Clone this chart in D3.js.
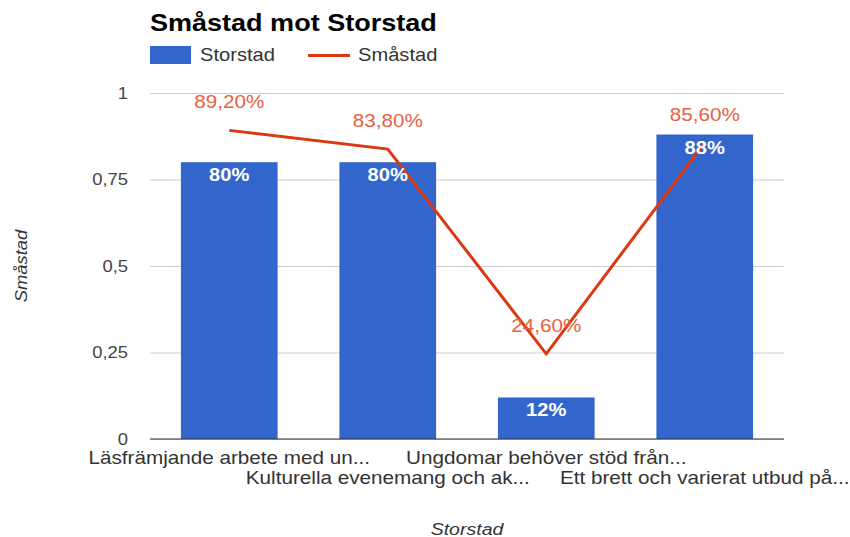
<!DOCTYPE html>
<html>
  <head>
    <meta charset="utf-8">
    <style>
      body { margin: 0; background: #fff; }
      text { font-family: "Liberation Sans", Arial, sans-serif; }
    </style>
  </head>
  <body>
    <script src="https://d3js.org/d3.v7.min.js"></script>
    <script>
      var categories = ['Läsfrämjande arbete med un...',
                        'Kulturella evenemang och ak...',
                        'Ungdomar behöver stöd från...',
                        'Ett brett och varierat utbud på...'];
      var storstad = [0.80, 0.80, 0.12, 0.88];
      var smastad = [0.892, 0.838, 0.246, 0.856];
      var yTicks = [0, 0.25, 0.5, 0.75, 1];

      var W = 850, H = 537;
      var pLeft = 150, pRight = 784, pTop = 93, pBottom = 439;
      var sx = 1.15; // the reference text is a little wide

      var svg = d3.select('body').append('svg')
                  .attr('width', W)
                  .attr('height', H);

      var x = d3.scaleBand().domain(categories)
                .range([pLeft, pRight]).paddingInner(0.39).paddingOuter(0.195);
      var y = d3.scaleLinear().domain([0, 1]).range([pBottom, pTop]);

      function comma(v) { return String(v).replace('.', ','); }
      function pct(v, dec) {
        return (v * 100).toFixed(dec).replace('.', ',') + '%';
      }
      function label(g, px, py, str, size, fill, anchor) {
        return g.append('text')
                .attr('transform', 'translate(' + px + ',' + py + ') scale(' + sx + ',1)')
                .attr('text-anchor', anchor || 'start')
                .attr('fill', fill)
                .style('font-size', size + 'px')
                .text(str);
      }

      // gridlines + y tick labels
      svg.append('g')
         .attr('transform', 'translate(' + pLeft + ',0)')
         .call(d3.axisLeft(y).tickValues(yTicks).tickSize(-(pRight - pLeft))
               .tickFormat(function(d) { return comma(d); }))
         .call(function(g) {
           g.select('.domain').remove();
           g.selectAll('.tick line').attr('stroke', '#cccccc');
           g.selectAll('.tick text')
            .attr('x', -22 / sx)
            .attr('transform', 'scale(' + sx + ',1)')
            .attr('fill', '#444')
            .style('font-family', '"Liberation Sans", Arial, sans-serif')
            .style('font-size', '16px');
         });

      // bars
      svg.selectAll('rect.bar').data(storstad).enter().append('rect')
         .attr('class', 'bar')
         .attr('x', function(d, i) { return x(categories[i]); })
         .attr('width', x.bandwidth())
         .attr('y', function(d) { return y(d); })
         .attr('height', function(d) { return pBottom - y(d); })
         .attr('fill', '#3366cc');

      // baseline
      svg.append('line')
         .attr('x1', pLeft).attr('x2', pRight)
         .attr('y1', y(0)).attr('y2', y(0))
         .attr('stroke', '#333').attr('stroke-width', 1);

      // line
      var cx = function(i) { return x(categories[i]) + x.bandwidth() / 2; };
      var line = d3.line()
                   .x(function(d, i) { return cx(i); })
                   .y(function(d) { return y(d); });
      svg.append('path').datum(smastad)
         .attr('d', line)
         .attr('fill', 'none')
         .attr('stroke', '#dc3912')
         .attr('stroke-width', 3);

      // bar labels
      storstad.forEach(function(d, i) {
        label(svg, cx(i), y(d) + 19, pct(d, 0), 17.5, '#fff', 'middle')
          .style('font-weight', 'bold');
      });

      // line labels
      smastad.forEach(function(d, i) {
        label(svg, cx(i), y(d) - 22, pct(d, 2), 18, '#e8603f', 'middle');
      });

      // category labels, alternating rows
      categories.forEach(function(d, i) {
        label(svg, cx(i), i % 2 ? 484 : 464, d, 18, '#333', 'middle');
      });

      // axis titles
      label(svg, (pLeft + pRight) / 2, 535, 'Storstad', 17, '#333', 'middle')
        .style('font-style', 'italic');
      svg.append('text')
         .attr('transform', 'translate(27,' + (pTop + pBottom) / 2 + ') rotate(-90) scale(1.15,1)')
         .attr('text-anchor', 'middle')
         .attr('fill', '#333')
         .style('font-size', '16px').style('font-style', 'italic')
         .text('Småstad');

      // title
      label(svg, pLeft, 31, 'Småstad mot Storstad', 23.5, '#000')
        .style('font-weight', 'bold');

      // legend
      var lg = svg.append('g');
      lg.append('rect').attr('x', 150).attr('y', 46)
        .attr('width', 41).attr('height', 18).attr('fill', '#3366cc');
      label(lg, 200, 61, 'Storstad', 17.5, '#333');
      lg.append('line').attr('x1', 308).attr('x2', 350)
        .attr('y1', 55.5).attr('y2', 55.5)
        .attr('stroke', '#dc3912').attr('stroke-width', 3);
      label(lg, 358, 61, 'Småstad', 17.5, '#333');
    </script>
  </body>
</html>
